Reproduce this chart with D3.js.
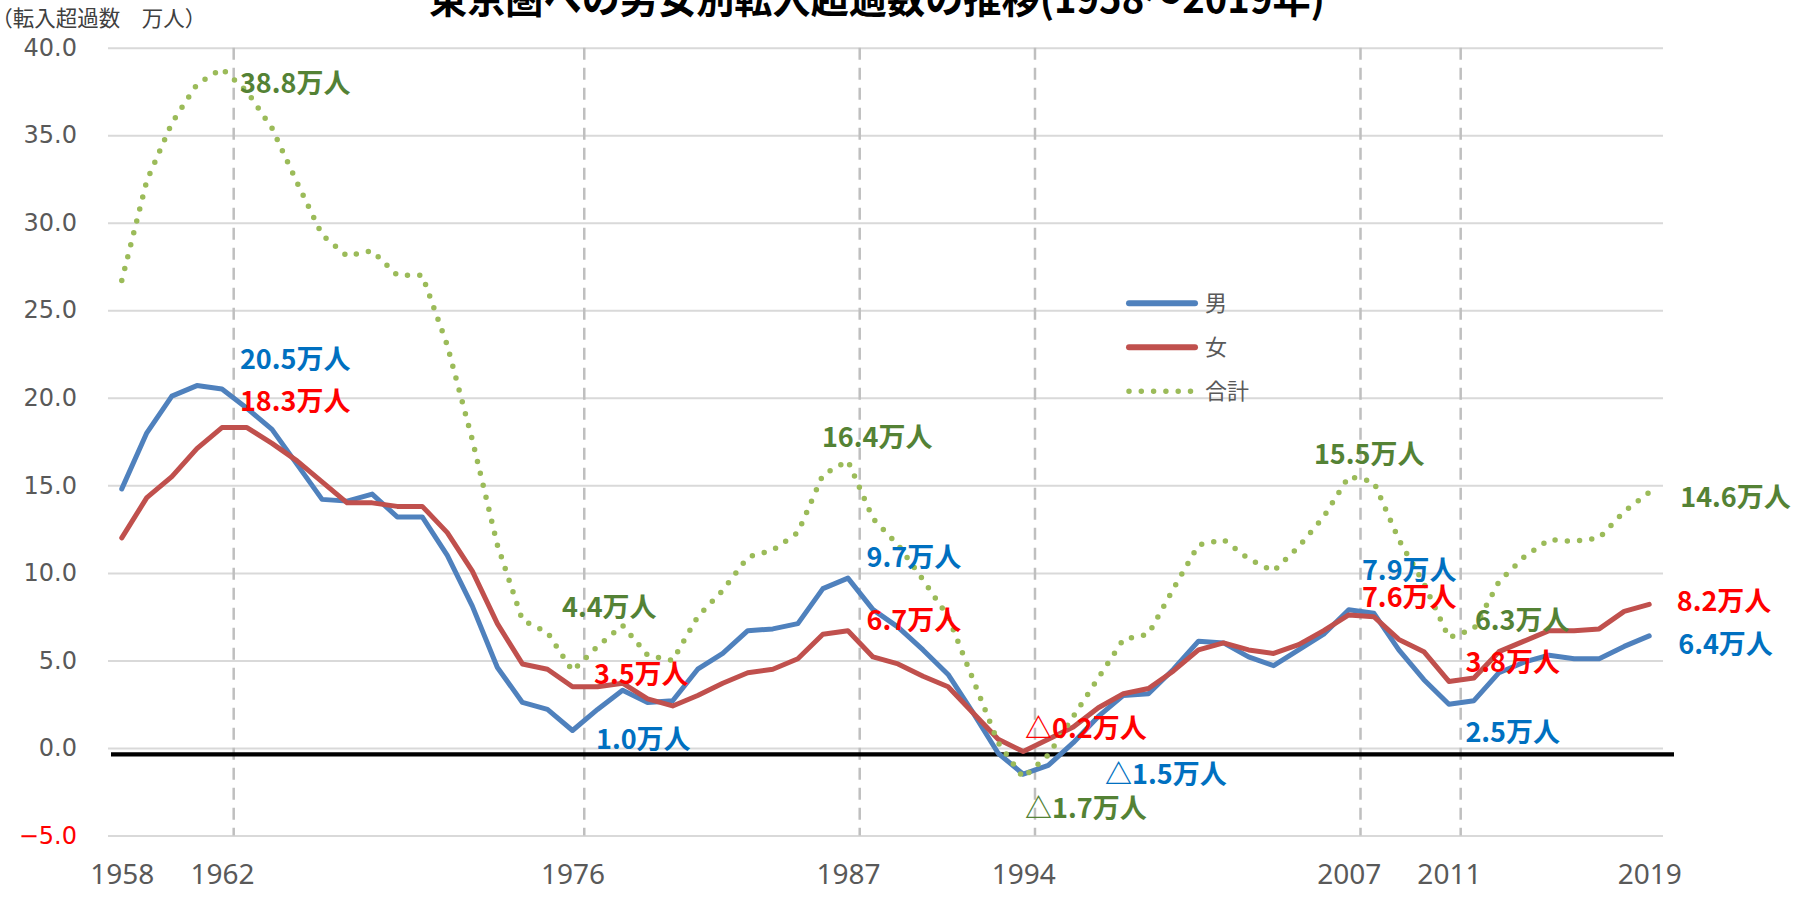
<!DOCTYPE html>
<html><head><meta charset="utf-8">
<script src="https://cdn.jsdelivr.net/npm/d3@7"></script>
<style>html,body{margin:0;padding:0;background:#fff;overflow:hidden}</style>
</head><body>
<svg id="chart" width="1797" height="901"></svg>
<script>
// ---------------- data ----------------
const years = d3.range(1958, 2020);
const male = [14.8, 18.0, 20.1, 20.7, 20.5, 19.4, 18.2, 16.2, 14.2, 14.1,
              14.5, 13.2, 13.2, 11.0, 8.1, 4.6, 2.6, 2.2, 1.0, 2.2,
              3.3, 2.6, 2.7, 4.5, 5.4, 6.7, 6.8, 7.1, 9.1, 9.7,
              7.9, 6.9, 5.6, 4.2, 2.0, -0.3, -1.5, -1.0, 0.3, 1.8,
              3.0, 3.1, 4.5, 6.1, 6.0, 5.2, 4.7, 5.6, 6.5, 7.9,
              7.7, 5.6, 3.9, 2.5, 2.7, 4.3, 4.9, 5.3, 5.1, 5.1,
              5.8, 6.4];
const female = [12.0, 14.3, 15.5, 17.1, 18.3, 18.3, 17.4, 16.4, 15.2, 14.0,
                14.0, 13.8, 13.8, 12.3, 10.1, 7.1, 4.8, 4.5, 3.5, 3.5,
                3.7, 2.8, 2.4, 3.0, 3.7, 4.3, 4.5, 5.1, 6.5, 6.7,
                5.2, 4.8, 4.1, 3.5, 2.0, 0.5, -0.2, 0.5, 1.2, 2.3,
                3.1, 3.4, 4.4, 5.6, 6.0, 5.6, 5.4, 5.9, 6.7, 7.6,
                7.5, 6.2, 5.5, 3.8, 4.0, 5.5, 6.1, 6.7, 6.7, 6.8,
                7.8, 8.2];
const total = [26.7, 32.4, 35.7, 37.9, 38.8, 37.5, 35.4, 32.3, 29.3, 28.1,
               28.4, 27.0, 27.0, 23.0, 17.6, 11.6, 7.3, 6.6, 4.4, 5.8,
               7.0, 5.3, 5.0, 7.5, 9.0, 10.9, 11.3, 12.3, 15.6, 16.4,
               13.1, 11.6, 9.6, 7.5, 3.9, 0.3, -1.7, -0.4, 1.8, 4.0,
               6.2, 6.5, 9.1, 11.6, 11.9, 10.8, 10.1, 11.5, 13.2, 15.5,
               15.2, 11.9, 9.4, 6.3, 6.8, 9.5, 10.9, 11.9, 11.8, 12.0,
               13.5, 14.6];
const seriesNames = ["男", "女", "合計"];
const yTicks = [-5, 0, 5, 10, 15, 20, 25, 30, 35, 40];
const xTickYears = [1958, 1962, 1976, 1987, 1994, 2007, 2011, 2019];
const markerYears = [1962, 1976, 1987, 1994, 2007, 2011];
const titleText = "東京圏への男女別転入超過数の推移(1958～2019年)";
const yTitleText = "（転入超過数　万人）";

// annotations: year, series index, text
const annYears  = [1962, 1962, 1962, 1976, 1976, 1976, 1987, 1987, 1987, 1994, 1994, 1994, 2007, 2007, 2007, 2011, 2011, 2011, 2019, 2019, 2019];
const annSeries = [2, 0, 1, 2, 1, 0, 2, 0, 1, 1, 2, 0, 2, 0, 1, 2, 1, 0, 2, 1, 0];
const annTexts  = ["38.8万人", "20.5万人", "18.3万人", "4.4万人", "3.5万人", "1.0万人",
                   "16.4万人", "9.7万人", "6.7万人", "△0.2万人", "△1.7万人", "△1.5万人",
                   "15.5万人", "7.9万人", "7.6万人", "6.3万人", "3.8万人", "2.5万人",
                   "14.6万人", "8.2万人", "6.4万人"];

// ---------------- layout / style ----------------
const annOffsets = [[18, 15], [18, -30], [18, -26], [-10.5, -64], [21.5, -12], [23.5, 8.5],
                    [-26, -24], [18.6, -21], [18.6, -10], [1.8, -23.5], [1.8, 31], [81.8, 0],
                    [-34.8, -22], [13.2, -39], [13.2, -18], [26, -17], [16.5, -19.5], [16.5, 28],
                    [31, 4.5], [27.5, -3.5], [29, 8]];
const lineColors = ["#4F81BD", "#C0504D", "#9BBB59"];
const labelColors = ["#0070C0", "#FF0000", "#548235"];
const plot = {left: 108, right: 1663, top: 47.7, bottom: 835.5};
const cjk = "'Noto Sans CJK JP', 'Noto Sans', sans-serif";

const svg = d3.select("#chart");
const x = d3.scalePoint().domain(years).range([plot.left, plot.right]).padding(0.55);
const y = d3.scaleLinear().domain([-5, 40]).range([plot.bottom, plot.top]);

// gridlines
const grid = svg.append("g").attr("transform", `translate(${plot.left},0)`)
  .call(d3.axisLeft(y).tickValues(yTicks).tickSize(-(plot.right - plot.left)).tickFormat(""));
grid.select(".domain").remove();
grid.selectAll("line").attr("stroke", "#D9D9D9").attr("stroke-width", 2);

// y tick labels
const yAx = svg.append("g").attr("transform", `translate(${plot.left},0)`)
  .call(d3.axisLeft(y).tickValues(yTicks).tickSize(0).tickPadding(31).tickFormat(d3.format(".1f")));
yAx.select(".domain").remove();
yAx.selectAll("text")
  .attr("font-family", "'DejaVu Sans', sans-serif").attr("font-size", 24)
  .attr("fill", d => d < 0 ? "#FF0000" : "#595959");

// x tick labels
const xAx = svg.append("g").attr("transform", `translate(0,${plot.bottom})`)
  .call(d3.axisBottom(x).tickValues(xTickYears).tickSize(0).tickPadding(29));
xAx.select(".domain").remove();
xAx.selectAll("text")
  .attr("font-family", "'Noto Sans', sans-serif").attr("font-size", 28)
  .attr("fill", "#595959");

// dashed marker lines
svg.append("g").selectAll("line").data(markerYears).join("line")
  .attr("x1", d => x(d) + x.step() * 0.47).attr("x2", d => x(d) + x.step() * 0.47)
  .attr("y1", plot.top).attr("y2", plot.bottom)
  .attr("stroke", "#BFBFBF").attr("stroke-width", 2.5).attr("stroke-dasharray", "12,8");

// black base line (slightly below zero)
svg.append("line")
  .attr("x1", plot.left + 3).attr("x2", plot.right + 11)
  .attr("y1", y(0) + 6.5).attr("y2", y(0) + 6.5)
  .attr("stroke", "#000").attr("stroke-width", 4.3);

// series
const seriesData = [male, female, total];
const line = d3.line().x((d, i) => x(years[i])).y(d => y(d));
seriesData.forEach((s, k) => {
  const p = svg.append("path").datum(s).attr("d", line)
    .attr("fill", "none").attr("stroke", lineColors[k])
    .attr("stroke-linejoin", "round").attr("stroke-linecap", "round");
  if (k < 2) p.attr("stroke-width", 5);
  else p.attr("stroke-width", 5.5).attr("stroke-dasharray", "0,12.3");
});

// annotations
svg.append("g").selectAll("text").data(annTexts).join("text")
  .attr("x", (d, i) => x(annYears[i]) + annOffsets[i][0])
  .attr("y", (d, i) => y(seriesData[annSeries[i]][years.indexOf(annYears[i])]) + annOffsets[i][1])
  .attr("dy", "0.36em")
  .attr("font-family", cjk).attr("font-weight", 700).attr("font-size", 27)
  .attr("fill", (d, i) => labelColors[annSeries[i]])
  .text(d => d);

// legend
const lg = svg.append("g").attr("transform", "translate(1129,303.3)");
seriesNames.forEach((n, k) => {
  const g = lg.append("g").attr("transform", `translate(0,${k * 44})`);
  const l = g.append("line").attr("x1", 0).attr("x2", 66).attr("y1", 0).attr("y2", 0)
    .attr("stroke", lineColors[k]).attr("stroke-linecap", "round");
  if (k < 2) l.attr("stroke-width", 6);
  else l.attr("x1", 0).attr("x2", 62).attr("stroke-width", 5.5).attr("stroke-dasharray", "0,12.3");
  g.append("text").attr("x", 76).attr("y", 0).attr("dy", "0.36em")
    .attr("font-family", cjk).attr("font-size", 22).attr("fill", "#595959").text(n);
});

// titles
svg.append("text").attr("x", 429).attr("y", 13)
  .attr("textLength", 896).attr("lengthAdjust", "spacingAndGlyphs")
  .attr("font-family", cjk).attr("font-weight", 700).attr("font-size", 40)
  .attr("fill", "#000").text(titleText);
svg.append("text").attr("x", 2).attr("y", 26)
  .style("font-feature-settings", "'halt'")
  .attr("font-family", cjk).attr("font-size", 21.5).attr("fill", "#404040").text(yTitleText);
</script>
</body></html>
